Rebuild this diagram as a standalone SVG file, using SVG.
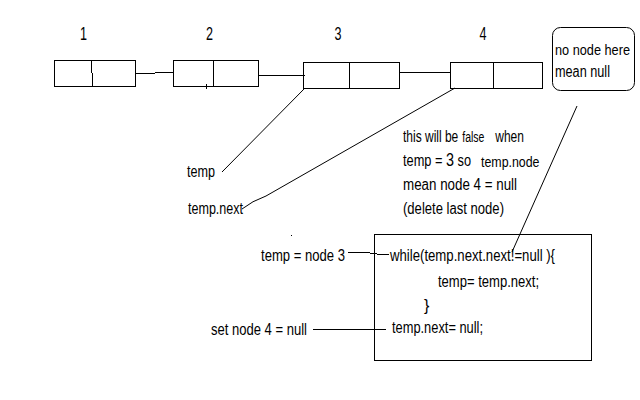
<svg xmlns="http://www.w3.org/2000/svg" width="640" height="400" viewBox="0 0 640 400">
<style>
.t{font-family:"Liberation Sans",Arial,sans-serif;font-size:16px;fill:#000}
.d{font-size:19px}
.s{fill:none;stroke:#000;stroke-width:1}
</style>
<rect width="640" height="400" fill="#fff"/>
<g id="connectors" class="s">
<path d="M136,73.5 H155 M155,72.5 H173"/>
<path d="M258.5,75.5 H305"/>
<path d="M399.5,72.5 H450"/>
<path d="M305,88 L222,172"/>
<path d="M455,88 L266,196 Q252,201 242,209"/>
<path d="M577,106 L512,252"/>
<path d="M348,252.5 H370 M370,253.5 H377 M377,254.5 H389"/>
<path d="M313,329.5 H386"/>
</g>
<g id="node1">
<rect class="s" x="54.5" y="60.5" width="81" height="26"/>
<path class="s" d="M91.5,60.5 V73 M92.5,73 V86.5"/>
<text class="t d" x="80" y="40" textLength="7" lengthAdjust="spacingAndGlyphs">1</text>
</g>
<g id="node2">
<rect class="s" x="173.5" y="60.5" width="85" height="26"/>
<path class="s" d="M213.5,60.5 V86.5 M206.5,84 V89"/>
<text class="t d" x="206" y="40" textLength="7" lengthAdjust="spacingAndGlyphs">2</text>
</g>
<g id="node3">
<rect class="s" x="303.5" y="62.5" width="96" height="26"/>
<path class="s" d="M349.5,62.5 V88.5"/>
<text class="t d" x="334.5" y="40" textLength="7" lengthAdjust="spacingAndGlyphs">3</text>
</g>
<g id="node4">
<rect class="s" x="450.5" y="62.5" width="92" height="26"/>
<path class="s" d="M493.5,62.5 V88.5"/>
<text class="t d" x="479.5" y="40" textLength="7" lengthAdjust="spacingAndGlyphs">4</text>
</g>
<g id="null-note">
<rect class="s" x="552.5" y="27.5" width="82" height="63" rx="8"/>
<text class="t" x="555" y="55" style="font-size:14px" textLength="75" lengthAdjust="spacingAndGlyphs">no node here</text>
<text class="t" x="555" y="77" textLength="55" lengthAdjust="spacingAndGlyphs">mean null</text>
</g>
<g id="temp-label">
<text class="t" x="187" y="177" textLength="28" lengthAdjust="spacingAndGlyphs">temp</text>
</g>
<g id="tempnext-label">
<text class="t" x="188" y="214" textLength="55" lengthAdjust="spacingAndGlyphs">temp.next</text>
</g>
<g id="annotation">
<text class="t" transform="translate(403,142) scale(0.75,1)" x="0" y="0">this will be<tspan x="79" style="font-size:14px">false</tspan><tspan x="123">when</tspan></text>
<text class="t" transform="translate(403,166) scale(0.8,1)" x="0" y="0">temp = <tspan style="font-size:18px">3</tspan> so<tspan x="97.5" y="1" style="font-size:15.5px">temp.node</tspan></text>
<text class="t" x="403" y="190" textLength="114" lengthAdjust="spacingAndGlyphs">mean  node 4 = null</text>
<text class="t" x="403" y="214" textLength="101" lengthAdjust="spacingAndGlyphs">(delete last node)</text>
</g>
<g id="code">
<rect class="s" x="374.5" y="234.5" width="217" height="126"/>
<text class="t" x="390" y="261" textLength="165" lengthAdjust="spacingAndGlyphs">while(temp.next.next!=null ){</text>
<text class="t" x="438" y="287" textLength="101" lengthAdjust="spacingAndGlyphs">temp= temp.next;</text>
<text class="t" x="424" y="311">}</text>
<text class="t" x="392" y="333" textLength="91" lengthAdjust="spacingAndGlyphs">temp.next= null;</text>
</g>
<g id="temp-node3-label">
<text class="t" x="261" y="261" textLength="84" lengthAdjust="spacingAndGlyphs">temp = node 3</text>
</g>
<g id="set-node4-label">
<text class="t" x="211" y="335" textLength="96" lengthAdjust="spacingAndGlyphs">set node 4 = null</text>
</g>
<rect x="291" y="235" width="1" height="1" fill="#000"/>
</svg>
